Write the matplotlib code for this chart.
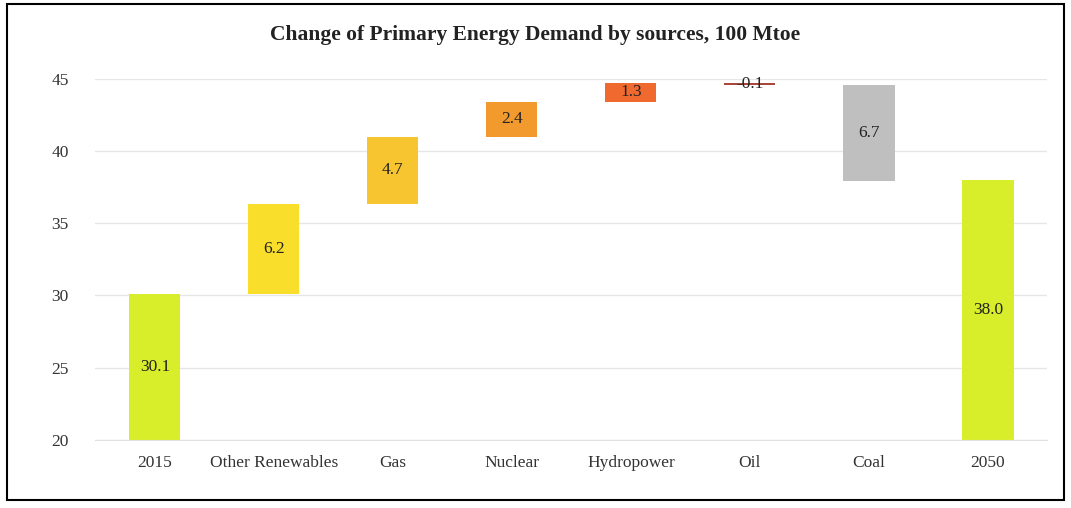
import matplotlib.pyplot as plt
from matplotlib.patches import Rectangle

plt.rcParams['font.family'] = ['Liberation Serif', 'DejaVu Serif']

categories = ['2015', 'Other Renewables', 'Gas', 'Nuclear', 'Hydropower', 'Oil', 'Coal', '2050']
start_value = 30.1
changes = [6.2, 4.7, 2.4, 1.3, -0.1, -6.7]
end_value = 38.0
value_labels = ['30.1', '6.2', '4.7', '2.4', '1.3', '-0.1', '6.7', '38.0']
colors = ['#d8ee2a', '#f9de2c', '#f7c52f', '#f39a2e', '#f0692f', '#a8473a', '#bfbfbf', '#d8ee2a']

# waterfall: bottoms and heights from the running total
bottoms = [20]
heights = [start_value - 20]
total = start_value
for c in changes:
    new_total = total + c
    bottoms.append(min(total, new_total))
    heights.append(abs(c))
    total = new_total
bottoms.append(20)
heights.append(end_value - 20)

fig = plt.figure(figsize=(10.71, 5.08), dpi=100)
fig.set_facecolor('white')
ax = fig.add_axes([0.089, 0.134, 0.889, 0.711])

x = range(len(categories))
ax.bar(x, heights, bottom=bottoms, width=0.43, color=colors, zorder=2)

for i in x:
    ax.text(i, bottoms[i] + heights[i] / 2, value_labels[i], ha='center', va='center',
            fontsize=12.5, color='#222222', zorder=3)

ax.set_ylim(20, 45)
ax.set_xlim(-0.5, len(categories) - 0.5)
ax.set_yticks([20, 25, 30, 35, 40, 45])
ax.set_xticks(list(x))
ax.set_xticklabels(categories)
ax.tick_params(axis='both', length=0, labelsize=12.5, colors='#333333')
ax.tick_params(axis='x', pad=11)
ax.tick_params(axis='y', pad=19)
ax.grid(axis='y', color='#e6e6e6', linewidth=1, zorder=0)
for side in ['top', 'right', 'left']:
    ax.spines[side].set_visible(False)
ax.spines['bottom'].set_color('#e0e0e0')

fig.text(0.5, 0.932, 'Change of Primary Energy Demand by sources, 100 Mtoe',
         ha='center', va='center', fontsize=15.5, fontweight='bold', color='#222222')

# outer frame
fig.patches.append(Rectangle((0.007, 0.015), 0.986, 0.978, transform=fig.transFigure,
                             fill=False, edgecolor='black', linewidth=1.5))

fig.savefig('out.png', dpi=100)
